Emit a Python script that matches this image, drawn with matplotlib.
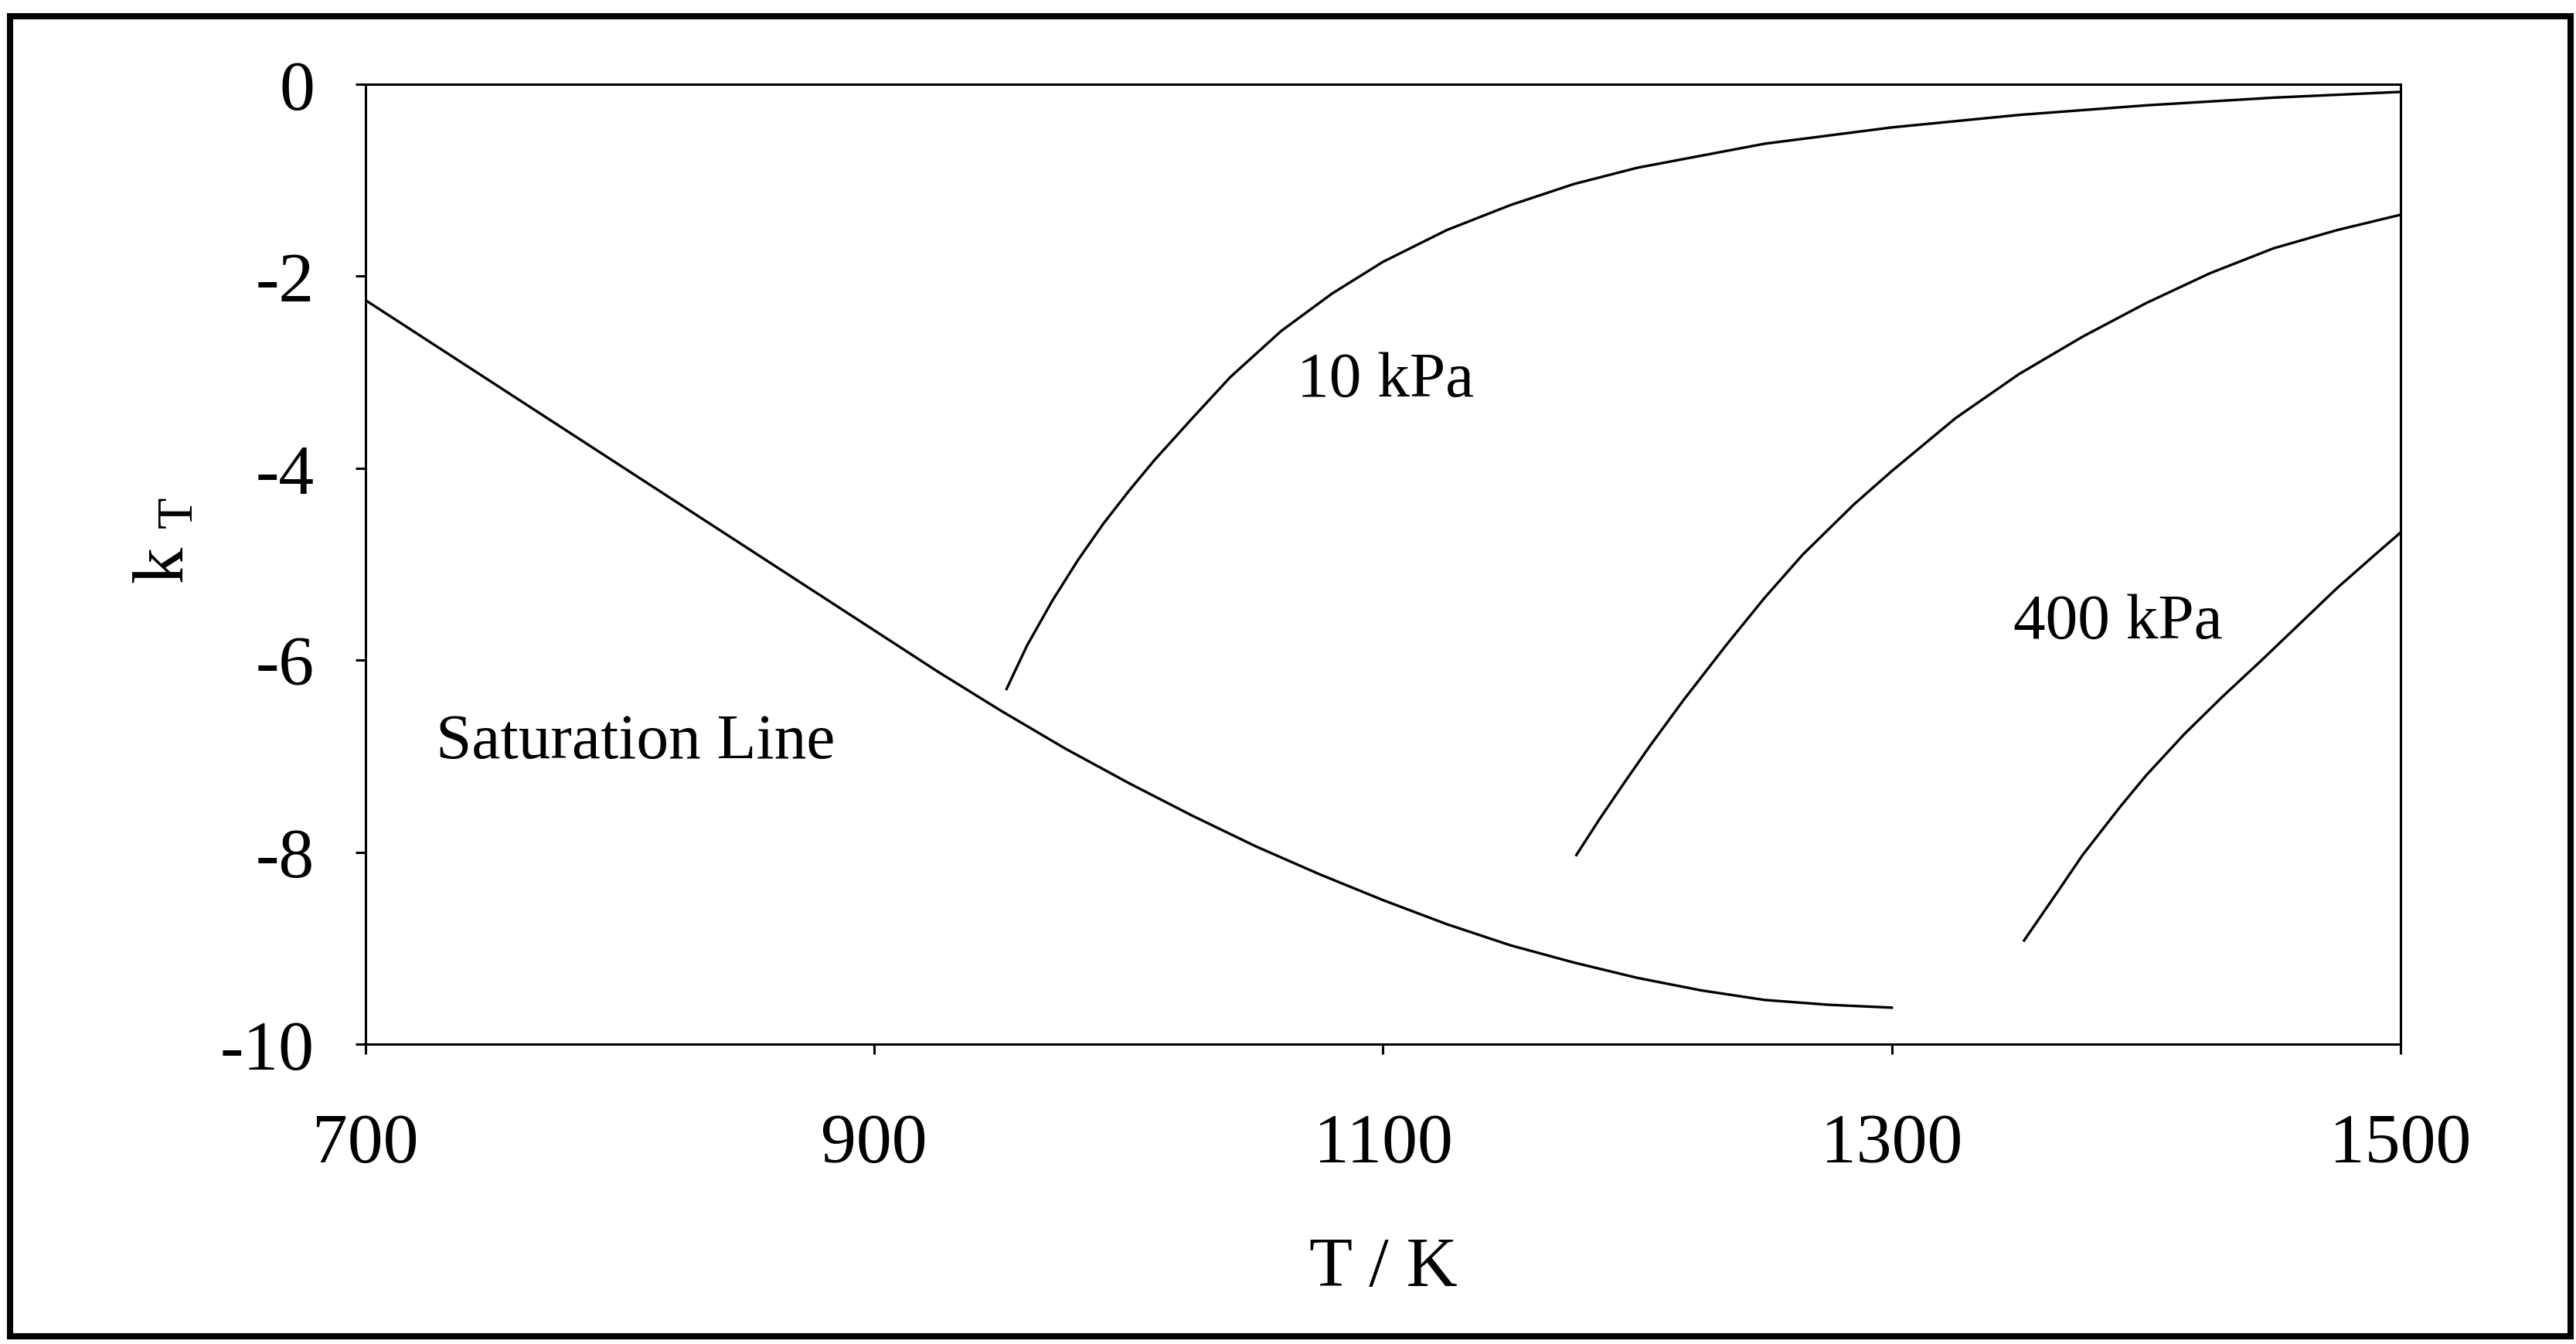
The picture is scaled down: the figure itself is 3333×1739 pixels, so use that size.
import numpy as np
import matplotlib
matplotlib.use('Agg')
import matplotlib.pyplot as plt
from matplotlib.patches import Rectangle

# curves: temperature T / K and k_T
sat_T = [700, 725, 750, 775, 800, 825, 850, 875, 900, 925, 950, 975, 1000,
         1025, 1050, 1075, 1100, 1125, 1150, 1175, 1200, 1225, 1250, 1275, 1300]
sat_k = [-2.25, -2.68, -3.11, -3.54, -3.97, -4.40, -4.83, -5.26, -5.69, -6.12,
         -6.53, -6.92, -7.28, -7.62, -7.94, -8.23, -8.50, -8.75, -8.97, -9.15,
         -9.31, -9.44, -9.54, -9.59, -9.62]

p10_T = [952, 960, 970, 980, 990, 1000, 1010, 1025, 1040, 1060, 1080, 1100,
         1125, 1150, 1175, 1200, 1250, 1300, 1350, 1400, 1450, 1500]
p10_k = [-6.30, -5.85, -5.38, -4.96, -4.58, -4.24, -3.92, -3.48, -3.05, -2.57,
         -2.18, -1.85, -1.52, -1.26, -1.04, -0.87, -0.62, -0.45, -0.32, -0.22,
         -0.14, -0.08]

mid_T = [1176, 1185, 1195, 1205, 1218, 1235, 1250, 1265, 1285, 1300, 1325,
         1350, 1375, 1400, 1425, 1450, 1475, 1500]
mid_k = [-8.03, -7.66, -7.27, -6.89, -6.42, -5.84, -5.35, -4.90, -4.38, -4.03,
         -3.48, -3.02, -2.63, -2.28, -1.97, -1.71, -1.52, -1.36]

p400_T = [1352, 1365, 1375, 1390, 1400, 1415, 1430, 1445, 1460, 1475, 1490, 1500]
p400_k = [-8.92, -8.42, -8.03, -7.52, -7.20, -6.77, -6.38, -6.01, -5.63,
          -5.25, -4.90, -4.67]

x_ticks = [700, 900, 1100, 1300, 1500]
y_ticks = [0, -2, -4, -6, -8, -10]

plt.rcParams['font.family'] = ['Liberation Serif', 'DejaVu Serif']
plt.rcParams['mathtext.fontset'] = 'custom'
plt.rcParams['mathtext.rm'] = 'Liberation Serif'
plt.rcParams['mathtext.it'] = 'Liberation Serif:italic'
plt.rcParams['axes.unicode_minus'] = False

fig = plt.figure(figsize=(16.665, 8.7), dpi=200)
ax = fig.add_axes([0.1419, 0.2230, 0.7900, 0.7138])

lw = 1.2
ax.plot(sat_T, sat_k, '-k', lw=lw)
ax.plot(p10_T, p10_k, '-k', lw=lw)
ax.plot(mid_T, mid_k, '-k', lw=lw)
ax.plot(p400_T, p400_k, '-k', lw=lw)

ax.text(1101, -3.24, '10 kPa', fontsize=30, ha='center', va='baseline')
ax.text(1389, -5.76, '400 kPa', fontsize=30, ha='center', va='baseline')
ax.text(806, -7.01, 'Saturation Line', fontsize=30, ha='center', va='baseline')

ax.set_xlim(700, 1500)
ax.set_ylim(-10, 0)
ax.set_xticks(x_ticks)
ax.set_yticks(y_ticks)
ax.tick_params(direction='out', length=4.7, width=1.1, labelsize=33)
ax.tick_params(axis='x', pad=27)
ax.tick_params(axis='y', pad=19)
for s in ax.spines.values():
    s.set_linewidth(1.1)

ax.set_xlabel('T / K', fontsize=33)
ax.xaxis.set_label_coords(0.5, -0.2)
ax.set_ylabel('k $_\\mathregular{T}$', fontsize=34)
ax.yaxis.set_label_coords(-0.082, 0.525)

# thick frame round the whole picture
fig.patches.append(Rectangle((0.0039, 0.0058), 0.994, 0.9816,
                             transform=fig.transFigure, fill=False,
                             edgecolor='black', linewidth=2.9))

fig.savefig('out.png', dpi=200, facecolor='white')
